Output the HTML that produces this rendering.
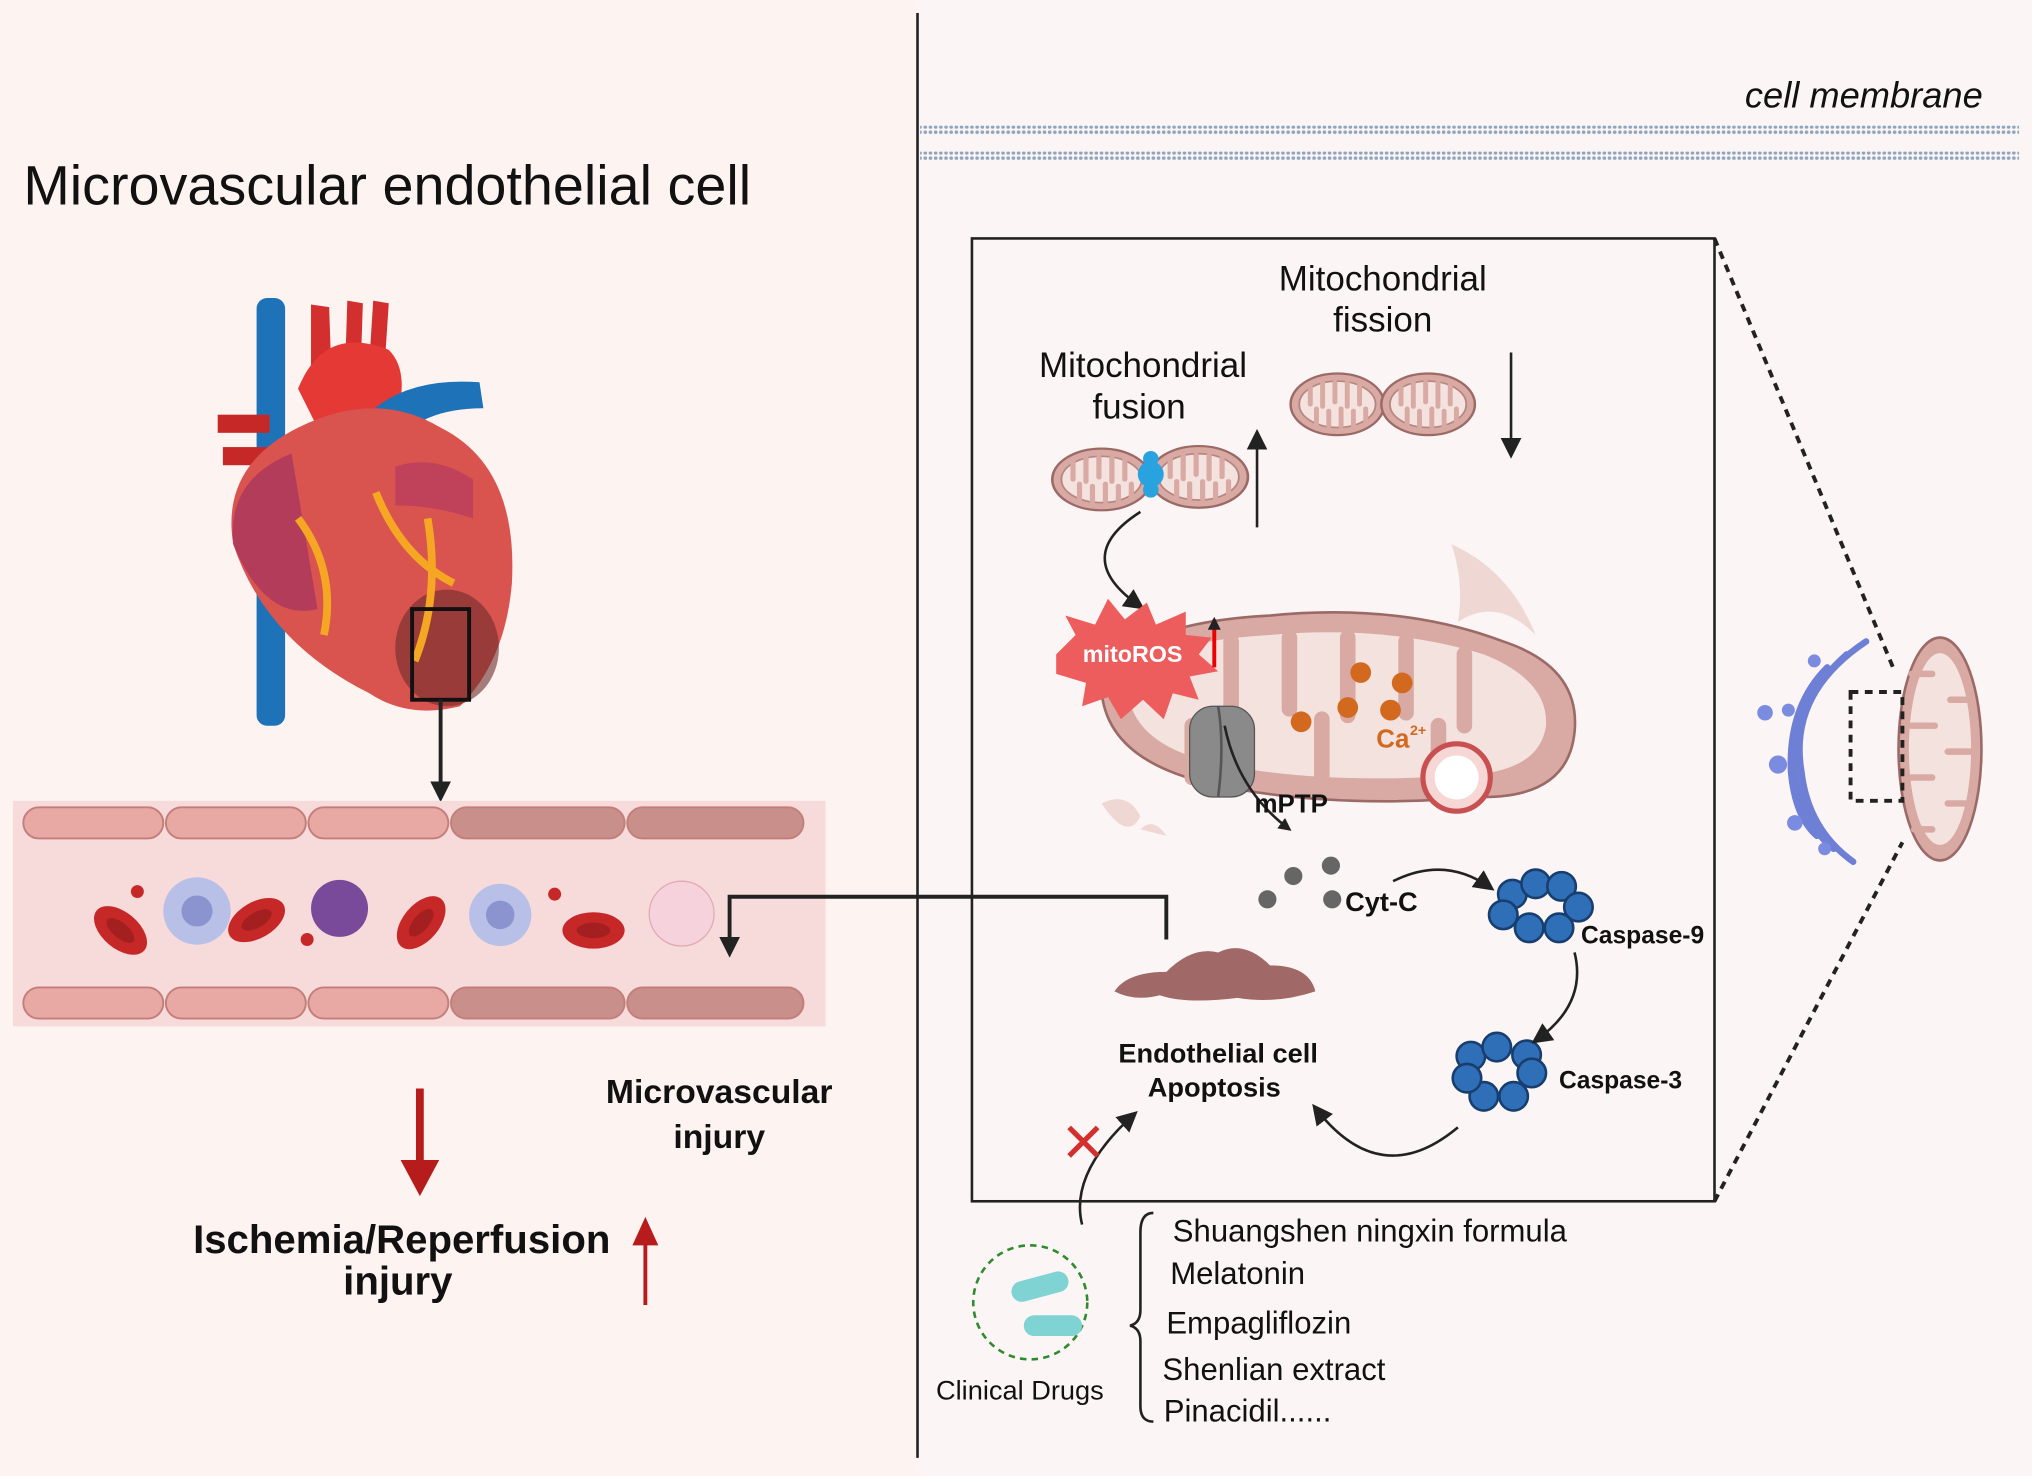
<!DOCTYPE html>
<html><head><meta charset="utf-8"><style>
html,body{margin:0;padding:0;background:#fff;}
svg{display:block;}
text{font-family:"Liberation Sans",Arial,sans-serif;}
</style></head><body>
<svg width="2032" height="1476" viewBox="0 0 1568 1139" preserveAspectRatio="none" xmlns="http://www.w3.org/2000/svg">
<defs>
<marker id="ah" markerWidth="10" markerHeight="10" refX="8" refY="5" orient="auto" markerUnits="userSpaceOnUse"><path d="M0,0 L10,5 L0,10 z" fill="#222"/></marker>
<marker id="ah2" markerWidth="16" markerHeight="16" refX="12" refY="8" orient="auto" markerUnits="userSpaceOnUse"><path d="M0,0 L16,8 L0,16 z" fill="#222"/></marker>
<marker id="ahr" markerWidth="30" markerHeight="30" refX="20" refY="15" orient="auto" markerUnits="userSpaceOnUse"><path d="M0,0 L28,15 L0,30 z" fill="#b71c1c"/></marker>
<marker id="ahr2" markerWidth="24" markerHeight="24" refX="16" refY="12" orient="auto" markerUnits="userSpaceOnUse"><path d="M0,2 L22,12 L0,22 z" fill="#b71c1c"/></marker>
<pattern id="dots" width="4" height="4" patternUnits="userSpaceOnUse"><circle cx="2" cy="2" r="1.4" fill="#8fa5bd"/></pattern>
<g id="mito">
<ellipse cx="0" cy="0" rx="38" ry="28" fill="#d9a9a3" stroke="#9b6a66" stroke-width="2"/>
<ellipse cx="0" cy="0" rx="31" ry="21" fill="#f3e2de" stroke="#b88680" stroke-width="1.5"/>
<path d="M-22,-18 v18 M-12,-20 v22 M-2,-20 v18 M8,-20 v22 M18,-18 v18 M-17,18 v-14 M-7,20 v-14 M3,20 v-16 M13,20 v-14 M23,16 v-12" stroke="#d9a9a3" stroke-width="4" stroke-linecap="round"/>
</g>
<g id="rbc"><ellipse rx="24" ry="14" fill="#c62828"/><ellipse rx="13" ry="6" fill="#8e1b1b" opacity=".6"/></g>
</defs>
<rect width="1568" height="1139" fill="#fdf4f2"/>
<rect x="708" y="0" width="860" height="1139" fill="#fcf5f5"/>
<line x1="708" y1="10" x2="708" y2="1125" stroke="#222" stroke-width="2"/>

<text x="18" y="158" font-size="43" fill="#111">Microvascular endothelial cell</text>

<!-- heart -->
<g>
<rect x="198" y="230" width="22" height="330" rx="8" fill="#1e73b8"/>
<rect x="168" y="320" width="40" height="14" fill="#c62828"/>
<rect x="172" y="345" width="36" height="14" fill="#c62828"/>
<path d="M240,235 l14,2 l2,60 h-16z M268,232 l12,2 l-2,60 h-12z M288,232 l12,2 l-4,60 h-12z" fill="#d32f2f"/>
<path d="M230,300 q20,-50 70,-30 q20,20 0,70 l-40,20z" fill="#e53935"/>
<path d="M275,330 q30,-40 95,-35 l3,20 q-50,0 -70,30 z" fill="#1e73b8"/>
<path d="M180,420 q-10,-60 50,-90 q60,-30 110,0 q60,30 55,120 q-5,60 -40,95 q-40,10 -70,-10 q-80,-40 -105,-115z" fill="#d9534f"/>
<path d="M180,420 q-5,-50 45,-70 l20,120 q-40,10 -65,-50z" fill="#b33c5a"/>
<path d="M305,360 q30,-10 60,10 l0,30 q-30,-10 -60,-10z" fill="#c0425a"/>
<ellipse cx="345" cy="500" rx="40" ry="45" fill="#6d2b2b" opacity=".6"/>
<path d="M230,400 q30,40 20,90 M290,380 q20,50 60,70 M330,400 q10,60 -10,110" stroke="#f5a623" stroke-width="6" fill="none"/>
<rect x="318" y="470" width="44" height="70" fill="none" stroke="#111" stroke-width="3"/>
</g>
<line x1="340" y1="540" x2="340" y2="615" stroke="#222" stroke-width="3" marker-end="url(#ah2)"/>

<!-- vessel -->
<rect x="10" y="618" width="627" height="174" fill="#f7dada"/>
<g fill="#e8a8a4" stroke="#c47e7a" stroke-width="1.5">
<rect x="18" y="623" width="108" height="24" rx="12"/><rect x="128" y="623" width="108" height="24" rx="12"/><rect x="238" y="623" width="108" height="24" rx="12"/>
<rect x="348" y="623" width="134" height="24" rx="12" fill="#c98f8b"/><rect x="484" y="623" width="136" height="24" rx="12" fill="#c98f8b"/>
<rect x="18" y="762" width="108" height="24" rx="12"/><rect x="128" y="762" width="108" height="24" rx="12"/><rect x="238" y="762" width="108" height="24" rx="12"/>
<rect x="348" y="762" width="134" height="24" rx="12" fill="#c98f8b"/><rect x="484" y="762" width="136" height="24" rx="12" fill="#c98f8b"/>
</g>
<use href="#rbc" transform="translate(93,718) rotate(40)"/>
<use href="#rbc" transform="translate(198,710) rotate(-30)"/>
<use href="#rbc" transform="translate(325,712) rotate(-50)"/>
<use href="#rbc" transform="translate(458,718)"/>
<circle cx="152" cy="703" r="26" fill="#b8c0e8"/><circle cx="152" cy="703" r="12" fill="#8c94d0"/>
<circle cx="386" cy="706" r="24" fill="#b8c0e8"/><circle cx="386" cy="706" r="11" fill="#8c94d0"/>
<circle cx="262" cy="701" r="22" fill="#7a4a9a"/>
<circle cx="526" cy="705" r="25" fill="#f6d3dc" stroke="#e3a9b5"/>
<circle cx="106" cy="688" r="5" fill="#c62828"/><circle cx="237" cy="725" r="5" fill="#c62828"/><circle cx="428" cy="690" r="5" fill="#c62828"/>

<polyline points="900,725 900,692 563,692 563,735" fill="none" stroke="#222" stroke-width="3" marker-end="url(#ah2)"/>

<!-- bottom left -->
<line x1="324" y1="840" x2="324" y2="915" stroke="#b71c1c" stroke-width="6" marker-end="url(#ahr)"/>
<line x1="498" y1="1007" x2="498" y2="945" stroke="#b71c1c" stroke-width="3" marker-end="url(#ahr2)"/>
<text x="555" y="851" font-size="26" font-weight="bold" text-anchor="middle" fill="#111">Microvascular</text>
<text x="555" y="886" font-size="26" font-weight="bold" text-anchor="middle" fill="#111">injury</text>
<text x="310" y="967" font-size="31" font-weight="bold" text-anchor="middle" fill="#111">Ischemia/Reperfusion</text>
<text x="307" y="999" font-size="31" font-weight="bold" text-anchor="middle" fill="#111">injury</text>

<!-- membrane -->
<rect x="710" y="97" width="848" height="7" fill="url(#dots)"/>
<rect x="710" y="117" width="848" height="7" fill="url(#dots)"/>
<text x="1530" y="83" font-size="28" font-style="italic" text-anchor="end" fill="#111">cell membrane</text>

<!-- box -->
<rect x="750" y="184" width="573" height="743" fill="none" stroke="#222" stroke-width="2"/>
<line x1="1323" y1="184" x2="1462" y2="518" stroke="#222" stroke-width="3" stroke-dasharray="6,5"/>
<line x1="1323" y1="927" x2="1468" y2="650" stroke="#222" stroke-width="3" stroke-dasharray="6,5"/>

<text x="1067" y="224" font-size="27" text-anchor="middle" fill="#111">Mitochondrial</text>
<text x="1067" y="256" font-size="27" text-anchor="middle" fill="#111">fission</text>
<text x="882" y="291" font-size="27" text-anchor="middle" fill="#111">Mitochondrial</text>
<text x="879" y="323" font-size="27" text-anchor="middle" fill="#111">fusion</text>
<use href="#mito" transform="translate(850,370) scale(1,0.85)"/>
<use href="#mito" transform="translate(925,368) scale(1,0.85)"/>
<circle cx="888" cy="366" r="10" fill="#29a3e0"/><circle cx="888" cy="354" r="6" fill="#29a3e0"/><circle cx="888" cy="378" r="6" fill="#29a3e0"/>
<use href="#mito" transform="translate(1032,312) scale(0.95,0.85)"/>
<use href="#mito" transform="translate(1102,312) scale(0.95,0.85)"/>
<line x1="970" y1="407" x2="970" y2="335" stroke="#222" stroke-width="2" marker-end="url(#ah2)"/>
<line x1="1166" y1="272" x2="1166" y2="350" stroke="#222" stroke-width="2" marker-end="url(#ah2)"/>
<path d="M880,395 Q825,430 880,468" fill="none" stroke="#222" stroke-width="2" marker-end="url(#ah2)"/>

<!-- big mito -->
<path d="M850,520 q30,-40 130,-45 q100,-10 180,20 q60,20 55,70 q-5,50 -70,50 q-120,10 -210,-10 q-90,-20 -85,-85z" fill="#d9a9a3" stroke="#9b6a66" stroke-width="2"/>
<path d="M870,525 q20,-30 110,-35 q90,-8 165,15 q50,20 48,55 q-5,35 -60,38 q-110,8 -190,-8 q-75,-15 -73,-65z" fill="#f3e2de"/>
<path d="M950,495 v60 M995,492 v55 M1040,492 v60 M1085,495 v55 M1130,505 v55 M920,600 v-40 M1020,600 v-45 M1110,600 v-40" stroke="#d9a9a3" stroke-width="12" stroke-linecap="round"/>
<path d="M1120,420 q10,30 5,60 q30,-20 60,10 q-20,-50 -65,-70z" fill="#efd8d4"/>
<path d="M850,620 q20,-10 30,10 q-10,20 -30,-10z M880,640 q10,-10 20,5z" fill="#efd8d4"/>
<circle cx="1050" cy="519" r="8" fill="#d2691e"/><circle cx="1082" cy="527" r="8" fill="#d2691e"/><circle cx="1040" cy="546" r="8" fill="#d2691e"/><circle cx="1073" cy="548" r="8" fill="#d2691e"/><circle cx="1004" cy="557" r="8" fill="#d2691e"/>
<text x="1062" y="577" font-size="20" font-weight="bold" fill="#d2691e">Ca</text><text x="1088" y="567" font-size="11" font-weight="bold" fill="#d2691e">2+</text>
<circle cx="1124" cy="600" r="26" fill="#f7d6d6" stroke="#c85050" stroke-width="4"/>
<circle cx="1124" cy="600" r="17" fill="#fff"/>
<rect x="918" y="545" width="50" height="70" rx="18" fill="#8a8a8a" stroke="#555"/>
<path d="M940,545 q5,30 0,70" stroke="#555" stroke-width="2" fill="none"/>
<path d="M945,560 q10,50 50,80" fill="none" stroke="#222" stroke-width="2" marker-end="url(#ah)"/>
<text x="968" y="627" font-size="20" font-weight="bold" fill="#111">mPTP</text>
<polygon points="815,505 830,490 822,475 845,482 855,462 868,478 885,465 892,482 915,472 915,490 935,492 925,505 940,518 918,522 925,540 905,535 898,555 882,540 865,555 855,538 835,545 838,527 815,520" fill="#ee5d5d"/>
<text x="874" y="511" font-size="18" font-weight="bold" text-anchor="middle" fill="#fff">mitoROS</text>
<line x1="937" y1="515" x2="937" y2="478" stroke="#e00" stroke-width="3" marker-end="url(#ah)"/>

<!-- cyt c & caspases -->
<circle cx="978" cy="694" r="7" fill="#666"/><circle cx="998" cy="676" r="7" fill="#666"/><circle cx="1027" cy="668" r="7" fill="#666"/><circle cx="1028" cy="694" r="7" fill="#666"/>
<text x="1038" y="703" font-size="21" font-weight="bold" fill="#111">Cyt-C</text>
<path d="M1075,680 q40,-20 75,5" fill="none" stroke="#222" stroke-width="2" marker-end="url(#ah2)"/>
<g fill="#2f6fb8" stroke="#173e6e" stroke-width="2">
<circle cx="1167" cy="690" r="11"/><circle cx="1185" cy="682" r="11"/><circle cx="1205" cy="684" r="11"/><circle cx="1218" cy="700" r="11"/><circle cx="1203" cy="716" r="11"/><circle cx="1180" cy="716" r="11"/><circle cx="1160" cy="706" r="11"/>
<circle cx="1135" cy="815" r="11"/><circle cx="1155" cy="808" r="11"/><circle cx="1178" cy="814" r="11"/><circle cx="1182" cy="828" r="11"/><circle cx="1168" cy="846" r="11"/><circle cx="1145" cy="846" r="11"/><circle cx="1132" cy="832" r="11"/>
</g>
<text x="1220" y="728" font-size="19" font-weight="bold" fill="#111">Caspase-9</text>
<text x="1203" y="840" font-size="19" font-weight="bold" fill="#111">Caspase-3</text>
<path d="M1215,735 q10,40 -30,68" fill="none" stroke="#222" stroke-width="2" marker-end="url(#ah2)"/>
<path d="M1125,870 q-60,50 -110,-15" fill="none" stroke="#222" stroke-width="2" marker-end="url(#ah2)"/>

<path d="M860,765 q10,-15 40,-15 q20,-20 40,-15 q20,-10 40,10 q30,0 35,20 q-30,10 -60,5 q-40,5 -60,-2 q-20,5 -35,-3z" fill="#a06866"/>
<text x="940" y="820" font-size="21" font-weight="bold" text-anchor="middle" fill="#111">Endothelial cell</text>
<text x="937" y="846" font-size="21" font-weight="bold" text-anchor="middle" fill="#111">Apoptosis</text>
<path d="M835,945 q-10,-40 40,-85" fill="none" stroke="#222" stroke-width="2" marker-end="url(#ah2)"/>
<path d="M825,870 l22,22 M847,870 l-22,22" stroke="#d32f2f" stroke-width="4"/>

<!-- drugs -->
<circle cx="795" cy="1005" r="44" fill="none" stroke="#2e8b2e" stroke-width="2" stroke-dasharray="5,4"/>
<rect x="780" y="985" width="45" height="16" rx="8" fill="#7fd3d3" transform="rotate(-15 802 993)"/>
<rect x="790" y="1015" width="45" height="16" rx="8" fill="#7fd3d3"/>
<text x="787" y="1080" font-size="21" text-anchor="middle" fill="#111">Clinical Drugs</text>
<path d="M890,936 q-10,0 -10,15 v60 q0,10 -8,12 q8,2 8,12 v50 q0,12 10,12" fill="none" stroke="#222" stroke-width="2"/>
<g font-size="24" fill="#111">
<text x="905" y="958">Shuangshen ningxin formula</text>
<text x="903" y="991">Melatonin</text>
<text x="900" y="1029">Empagliflozin</text>
<text x="897" y="1065">Shenlian extract</text>
<text x="898" y="1097">Pinacidil......</text>
</g>

<!-- ER + mito right -->
<g fill="none" stroke="#6e7fd6" stroke-width="5" stroke-linecap="round">
<path d="M1440,495 q-60,40 -50,100 q5,45 40,70"/>
<path d="M1425,505 q-45,40 -40,90 q5,40 30,60"/>
<path d="M1410,515 q-30,30 -28,80 q3,35 20,50"/>
</g>
<g fill="#7b8ce0"><circle cx="1362" cy="550" r="6"/><circle cx="1380" cy="548" r="5"/><circle cx="1372" cy="590" r="7"/><circle cx="1385" cy="635" r="6"/><circle cx="1408" cy="655" r="5"/><circle cx="1400" cy="510" r="5"/></g>
<ellipse cx="1497" cy="578" rx="32" ry="86" fill="#d9a9a3" stroke="#9b6a66" stroke-width="2"/>
<ellipse cx="1497" cy="578" rx="24" ry="74" fill="#f3e2de"/>
<path d="M1475,520 h16 M1505,540 h16 M1475,560 h18 M1503,580 h18 M1475,600 h16 M1503,620 h16 M1477,640 h14" stroke="#d9a9a3" stroke-width="5" stroke-linecap="round"/>
<rect x="1428" y="534" width="40" height="84" fill="none" stroke="#222" stroke-width="3" stroke-dasharray="6,5"/>
</svg>
</body></html>
